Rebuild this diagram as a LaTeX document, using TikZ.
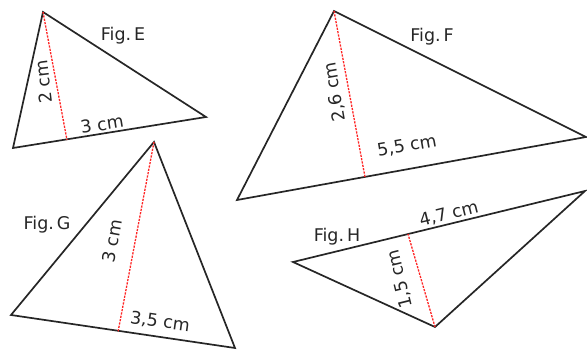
\documentclass[tikz,border=0pt]{standalone}
\usepackage{fontspec}
\setmainfont{DejaVu Sans}
\begin{document}
\begin{tikzpicture}[x=1pt,y=-1pt,
  tri/.style={draw=black!85,line width=1.7pt,line join=miter},
  height/.style={draw=red!85,line width=1.3pt,dash pattern=on 2.2pt off 1.2pt},
  lbl/.style={inner sep=0pt,font=\fontsize{17.5}{17.5}\selectfont,text=black!85}]
\useasboundingbox (0,0) rectangle (587,350);
% Fig E
\coordinate (Ea) at (43,12);
\coordinate (Eb) at (13,148);
\coordinate (Ec) at (206,117);
\coordinate (Ef) at (67,140);
\draw[tri] (Ea) -- (Eb) -- (Ec) -- cycle;
\draw[height] (Ea) -- (Ef);
\node[lbl] (Et) at (123,36) {Fig.\,E};
\node[lbl,rotate=97] (Eh) at (44,82) {2 cm};
\node[lbl,rotate=9] (Eg) at (102,124) {3 cm};
% Fig F
\coordinate (Fa) at (334,11);
\coordinate (Fb) at (237,200);
\coordinate (Fc) at (586,137);
\coordinate (Ff) at (365,177);
\draw[tri] (Fa) -- (Fb) -- (Fc) -- cycle;
\draw[height] (Fa) -- (Ff);
\node[lbl] (Ft) at (432,37) {Fig.\,F};
\node[lbl,rotate=100] (Fh) at (335,92) {2,6 cm};
\node[lbl,rotate=10] (Fg) at (407,146) {5,5 cm};
% Fig G
\coordinate (Ga) at (154,142);
\coordinate (Gb) at (11,315);
\coordinate (Gc) at (235,348);
\coordinate (Gf) at (118,332);
\draw[tri] (Ga) -- (Gb) -- (Gc) -- cycle;
\draw[height] (Ga) -- (Gf);
\node[lbl] (Gt) at (47,225) {Fig.\,G};
\node[lbl,rotate=80] (Gh) at (112,241) {3 cm};
\node[lbl,rotate=-8] (Gg) at (160,322) {3,5 cm};
% Fig H
\coordinate (Ha) at (293,262);
\coordinate (Hb) at (585,191);
\coordinate (Hc) at (435,327);
\coordinate (Hf) at (408,234);
\draw[tri] (Ha) -- (Hb) -- (Hc) -- cycle;
\draw[height] (Hc) -- (Hf);
\node[lbl] (Ht) at (337,237) {Fig.\,H};
\node[lbl,rotate=14] (Hg) at (449,214) {4,7 cm};
\node[lbl,rotate=104] (Hh) at (400,279) {1,5 cm};
\end{tikzpicture}
\end{document}
